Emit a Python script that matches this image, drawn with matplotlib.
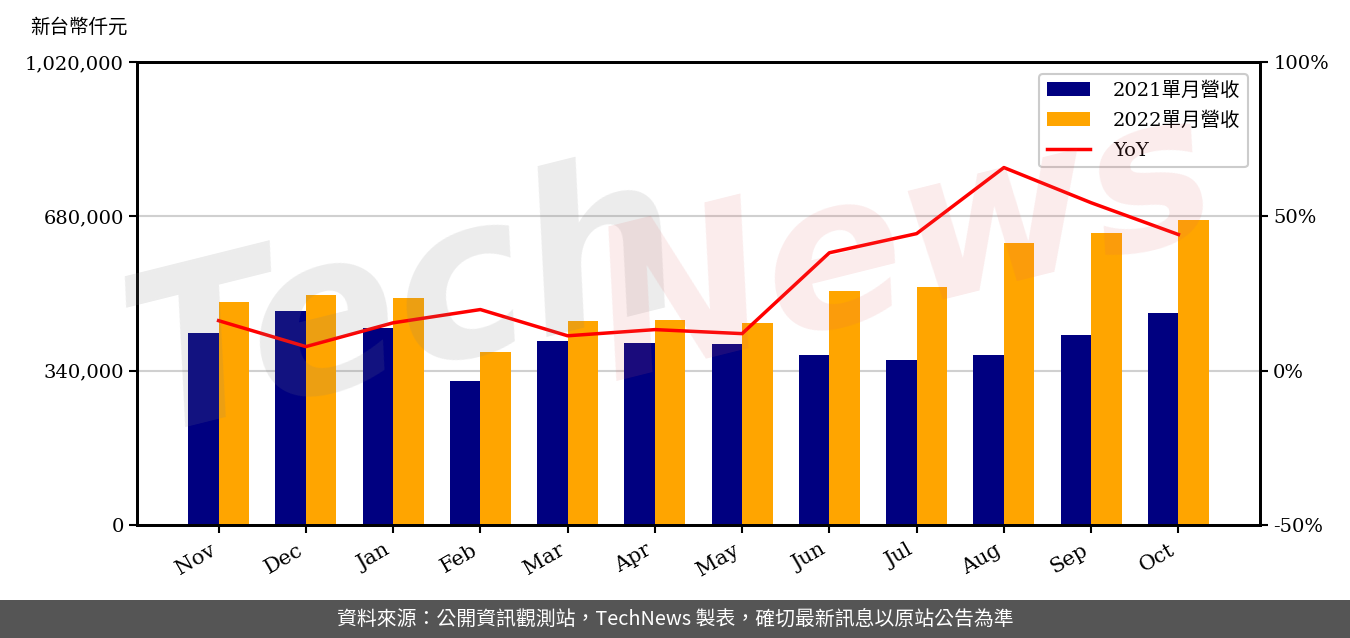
import matplotlib
matplotlib.use("Agg")
import matplotlib.pyplot as plt
import numpy as np
from matplotlib.patches import Rectangle
from matplotlib.ticker import FuncFormatter

### data
months = ["Nov", "Dec", "Jan", "Feb", "Mar", "Apr", "May", "Jun", "Jul", "Aug", "Sep", "Oct"]
rev_2021 = [423000, 471000, 434000, 317000, 405000, 401000, 399000, 374000, 363000, 374000, 419000, 467000]
rev_2022 = [491000, 507000, 500000, 381000, 449000, 452000, 445000, 515000, 524000, 621000, 643000, 672000]
yoy = [16.2, 7.8, 15.5, 19.8, 11.3, 13.3, 12.0, 38.2, 44.4, 65.8, 54.4, 44.1]

left_ticks = [0, 340000, 680000, 1020000]
right_ticks = [-50, 0, 50, 100]

serif = ["DejaVu Serif", "Noto Sans CJK TC"]
plt.rcParams["font.family"] = serif

fig = plt.figure(figsize=(13.5, 6.38), dpi=100)
ax = fig.add_axes([137 / 1350, 1 - 525 / 638, (1260 - 137) / 1350, (525 - 62) / 638])

x = np.arange(len(months))
w = 0.35
b1 = ax.bar(x - w / 2, rev_2021, w, color="#000080", label="2021單月營收", zorder=2)
b2 = ax.bar(x + w / 2, rev_2022, w, color="#FFA500", label="2022單月營收", zorder=2)
ax.set_ylim(0, 1020000)
ax.set_yticks(left_ticks)
ax.yaxis.set_major_formatter(FuncFormatter(lambda v, p: f"{int(v):,}"))
ax.set_xticks(x)
ax.set_xticklabels(months, rotation=30, ha="right")
ax.grid(axis="y", color="#d0d0d0", linewidth=1.5, zorder=0)
ax.set_axisbelow(True)

ax2 = ax.twinx()
(ln,) = ax2.plot(x, yoy, color="red", linewidth=2.5, label="YoY", zorder=3)
ax2.set_ylim(-50, 100)
ax2.set_yticks(right_ticks)
ax2.yaxis.set_major_formatter(FuncFormatter(lambda v, p: f"{int(v)}%"))

for a in (ax, ax2):
    for s in a.spines.values():
        s.set_linewidth(2)
        s.set_color("black")
    a.tick_params(labelsize=14, length=6, width=1.5)
ax.tick_params(axis="x", labelsize=15, pad=5)

leg = ax2.legend([b1, b2, ln], ["2021單月營收", "2022單月營收", "YoY"], loc="upper right",
                 prop={"family": serif, "size": 14}, framealpha=1,
                 borderaxespad=0.6, handlelength=2.2, handletextpad=1.2, labelspacing=0.6)
leg.get_frame().set_linewidth(1.5)
leg.get_frame().set_edgecolor("#cccccc")

fig.text(30 / 1350, 1 - 27 / 638, "新台幣仟元", fontsize=14, va="center", ha="left",
         family=["Noto Sans CJK TC"])

# watermark
fig.text(0.30, 0.52, "Tech", fontsize=160, color="#808080", alpha=0.15, rotation=14,
         ha="center", va="center", style="italic", weight="bold", family="DejaVu Sans", zorder=5)
fig.text(0.67, 0.61, "News", fontsize=150, color="#e06060", alpha=0.12, rotation=14,
         ha="center", va="center", style="italic", weight="bold", family="DejaVu Sans", zorder=5)

# footer
fig.patches.append(Rectangle((0, 0), 1, 38 / 638, transform=fig.transFigure,
                             facecolor="#555555", edgecolor="none", zorder=0))
fig.text(0.5, 19 / 638, "資料來源：公開資訊觀測站，TechNews 製表，確切最新訊息以原站公告為準",
         color="white", fontsize=14.3, ha="center", va="center", family=["Noto Sans CJK TC"])

fig.savefig("out.png", dpi=100)
